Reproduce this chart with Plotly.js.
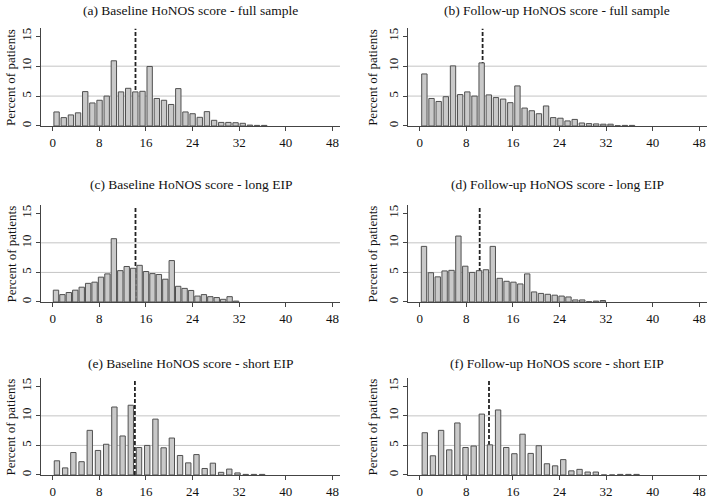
<!DOCTYPE html>
<html>
<head>
<meta charset="utf-8">
<script src="https://cdn.plot.ly/plotly-3.0.1.min.js"></script>
<style>
  html, body { margin: 0; padding: 0; background: #fff; }
  #chart { width: 709px; height: 498px; }
</style>
</head>
<body>
<div id="chart"></div>
<script>
// Percent of patients per HoNOS score bin
var baselineFull  = [2.35, 1.4, 1.85, 2.2, 5.75, 3.85, 4.3, 5.0, 10.9, 5.7, 6.3, 5.7, 5.8, 9.95, 4.6, 4.3, 3.6, 6.25, 2.35, 2.05, 1.45, 2.4, 0.95, 0.6, 0.6, 0.55, 0.45, 0.15, 0.1, 0.1];
var followupFull  = [8.7, 4.6, 4.1, 4.9, 10.05, 5.25, 5.7, 5.0, 10.55, 5.2, 4.75, 4.5, 3.9, 6.7, 3.0, 2.55, 2.05, 3.35, 1.4, 1.3, 0.85, 1.1, 0.5, 0.4, 0.35, 0.3, 0.3, 0.05, 0.1, 0.1];
var baselineLong  = [2.0, 1.25, 1.6, 2.0, 2.5, 3.15, 3.35, 4.2, 4.75, 10.7, 5.3, 6.0, 5.7, 6.2, 5.15, 4.8, 4.65, 3.85, 7.0, 2.65, 2.3, 1.95, 1.0, 1.25, 0.9, 0.75, 0.45, 0.9, 0.15];
var followupLong  = [9.4, 4.95, 4.25, 5.25, 5.35, 11.15, 6.05, 5.0, 5.3, 5.45, 9.4, 4.0, 3.5, 3.35, 3.05, 4.75, 1.7, 1.45, 1.3, 1.15, 1.0, 0.85, 0.35, 0.35, 0.05, 0.15, 0.25];
var baselineShort = [2.4, 1.2, 3.8, 2.25, 7.55, 4.15, 5.2, 11.5, 6.6, 11.8, 4.65, 5.0, 9.45, 4.6, 6.25, 3.3, 2.05, 3.45, 1.1, 2.0, 0.45, 1.0, 0.35, 0.1, 0.1, 0.1];
var followupShort = [7.15, 3.25, 7.55, 4.25, 8.8, 4.65, 4.9, 10.3, 5.1, 11.0, 4.65, 3.6, 6.9, 3.65, 4.95, 1.9, 1.55, 2.6, 0.7, 0.95, 0.5, 0.5, 0, 0, 0.1, 0.1, 0.1];

// histogram bins (start of first bin, bin width) and mean score per panel
var binStart  = [0.04, 0.19, 0.0, 0.15, 0.01, 0.18];
var binWidth  = [1.229, 1.229, 1.104, 1.181, 1.409, 1.398];
var meanScore = [14.2, 10.8, 14.2, 10.3, 14.1, 11.9];

var panelTitles = [
  '(a) Baseline HoNOS score - full sample',
  '(b) Follow-up HoNOS score - full sample',
  '(c) Baseline HoNOS score - long EIP',
  '(d) Follow-up HoNOS score - long EIP',
  '(e) Baseline HoNOS score - short EIP',
  '(f) Follow-up HoNOS score - short EIP'
];
var xTicks = [0, 8, 16, 24, 32, 40, 48];
var yTicks = [0, 5, 10, 15];
var yLabel = 'Percent of patients';

var panels = [baselineFull, followupFull, baselineLong, followupLong, baselineShort, followupShort];

var FONT = 'Liberation Serif, Times New Roman, serif';
var colDomains = [[0.058, 0.4795], [0.5755, 0.997]];
var rowDomains = [[0.747, 0.944], [0.3936, 0.5884], [0.0462, 0.2409]];
var titleY = [0.978, 0.6305, 0.271];
var yTitleX = [0.0155, 0.526];

var data = [];
var layout = {
  width: 709, height: 498,
  margin: {l: 0, r: 0, t: 0, b: 0},
  paper_bgcolor: '#fff', plot_bgcolor: '#fff',
  showlegend: false,
  font: {family: FONT, color: '#111'},
  annotations: [], shapes: []
};

panels.forEach(function (vals, i) {
  var n = i === 0 ? '' : String(i + 1);
  var row = Math.floor(i / 2), col = i % 2;
  var centers = vals.map(function (v, k) { return binStart[i] + (k + 0.5) * binWidth[i]; });

  data.push({
    type: 'bar', x: centers, y: vals, width: 0.92,
    xaxis: 'x' + n, yaxis: 'y' + n,
    marker: {color: '#c9c9c9', line: {color: '#505050', width: 1}},
    hoverinfo: 'x+y'
  });

  layout['xaxis' + n] = {
    domain: colDomains[col], anchor: 'y' + n,
    range: [-2, 49.3], tickvals: xTicks,
    ticks: 'outside', ticklen: 4, tickcolor: '#444',
    showline: true, linecolor: '#444', linewidth: 1,
    showgrid: false, zeroline: false,
    tickfont: {family: FONT, size: 13, color: '#111'}
  };
  layout['yaxis' + n] = {
    domain: rowDomains[row], anchor: 'x' + n,
    range: [0, 16.4], tickvals: yTicks, tickangle: -90,
    ticks: 'outside', ticklen: 4, tickcolor: '#444',
    showline: true, linecolor: '#444', linewidth: 1,
    showgrid: false, zeroline: false,
    tickfont: {family: FONT, size: 13, color: '#111'}
  };

  [5, 10].forEach(function (g) {
    layout.shapes.push({
      type: 'line', layer: 'below',
      xref: 'x' + n + ' domain', x0: 0, x1: 1,
      yref: 'y' + n, y0: g, y1: g,
      line: {color: '#c4c4c4', width: 1}
    });
  });
  layout.shapes.push({
    type: 'line', layer: 'below',
    xref: 'x' + n, x0: meanScore[i], x1: meanScore[i],
    yref: 'y' + n + ' domain', y0: 0, y1: 0.99,
    line: {color: '#222', width: 1.8, dash: '4px,2px'}
  });

  layout.annotations.push({
    text: panelTitles[i], showarrow: false,
    xref: 'paper', yref: 'paper',
    x: (colDomains[col][0] + colDomains[col][1]) / 2, y: titleY[row],
    xanchor: 'center', yanchor: 'middle',
    font: {family: FONT, size: 13.5, color: '#111'}
  });
  layout.annotations.push({
    text: yLabel, showarrow: false, textangle: -90,
    xref: 'paper', yref: 'paper',
    x: yTitleX[col], y: (rowDomains[row][0] + rowDomains[row][1]) / 2,
    xanchor: 'center', yanchor: 'middle',
    font: {family: FONT, size: 13, color: '#111'}
  });
});

Plotly.newPlot('chart', data, layout, {displayModeBar: false, staticPlot: true});
</script>
</body>
</html>
